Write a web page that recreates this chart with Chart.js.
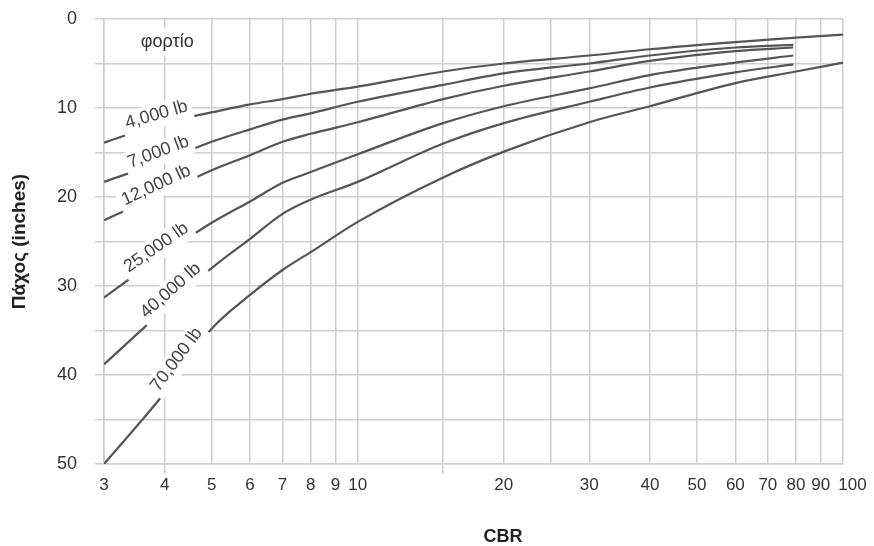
<!DOCTYPE html>
<html>
<head>
<meta charset="utf-8">
<script src="https://cdn.jsdelivr.net/npm/chart.js@4.4.1/dist/chart.umd.min.js"></script>
<style>
  html, body { margin: 0; padding: 0; background: #fff; }
  #wrap { width: 874px; height: 546px; }
</style>
</head>
<body>
<div id="wrap"><canvas id="myChart"></canvas></div>
<script>
// CBR values along the log x axis
var cbrLong = [3, 4, 5, 6, 7, 8, 10, 15, 20, 30, 40, 60, 80, 100];
var cbrShort = [3, 4, 5, 6, 7, 8, 10, 15, 20, 30, 40, 60, 79];

// thickness (inches) for each load
var load4000 = [13.9, 11.65, 10.5, 9.6, 9.0, 8.4, 7.6, 5.9, 5.0, 4.1, 3.4, 2.6, 2.1, 1.75];
var load7000 = [18.3, 15.9, 13.8, 12.4, 11.3, 10.6, 9.3, 7.4, 6.1, 5.0, 4.1, 3.2, 2.9];
var load12000 = [22.6, 19.5, 17.0, 15.3, 13.8, 12.9, 11.6, 9.0, 7.5, 5.9, 4.7, 3.6, 3.2];
var load25000 = [31.3, 26.4, 22.9, 20.5, 18.4, 17.2, 15.2, 11.7, 9.8, 7.8, 6.3, 4.9, 4.1];
var load40000 = [38.8, 32.6, 28.0, 24.7, 21.9, 20.3, 18.3, 14.0, 11.7, 9.3, 7.7, 6.0, 5.1];
var load70000 = [50, 42, 34.8, 31.0, 28.2, 26.2, 22.8, 17.8, 14.9, 11.6, 9.8, 7.2, 5.9, 4.9];

var loadNames = ["4,000 lb", "7,000 lb", "12,000 lb", "25,000 lb", "40,000 lb", "70,000 lb"];
var labelCbr = [3.9, 3.95, 3.92, 3.95, 4.25, 4.4];

var xGrid = [3, 4, 5, 6, 7, 8, 9, 10, 15, 20, 25, 30, 40, 50, 60, 70, 80, 90, 100];
var xLabels = [3, 4, 5, 6, 7, 8, 9, 10, 20, 30, 40, 50, 60, 70, 80, 90, 100];
var yLabels = [0, 10, 20, 30, 40, 50];

var FONT = "'Liberation Sans', Arial, sans-serif";
var GRID = "#cecece";

function pairs(xs, ys) {
  return xs.map(function (x, i) { return { x: x, y: ys[i] }; });
}

function curveY(pts, px) {
  for (var i = 0; i < pts.length - 1; i++) {
    if (px >= pts[i].x && px <= pts[i + 1].x) {
      var t = (px - pts[i].x) / (pts[i + 1].x - pts[i].x);
      return pts[i].y + t * (pts[i + 1].y - pts[i].y);
    }
  }
  return pts[0].y;
}

// load names written along the curves, with white behind them
var curveLabels = {
  id: "curveLabels",
  afterDatasetsDraw: function (chart) {
    var ctx = chart.ctx;
    var xs = chart.scales.x;
    var ys = chart.scales.y;
    var area = chart.chartArea;
    ctx.save();
    ctx.font = "18px " + FONT;
    ctx.textAlign = "center";
    ctx.textBaseline = "middle";
    loadNames.forEach(function (name, i) {
      var pts = chart.getDatasetMeta(i).data;
      var px = xs.getPixelForValue(labelCbr[i]);
      var py = curveY(pts, px);
      var ang = Math.atan2(curveY(pts, px + 25) - curveY(pts, px - 25), 50);
      var w = ctx.measureText(name).width;
      ctx.save();
      ctx.translate(px, py);
      ctx.rotate(ang);
      ctx.fillStyle = "#fff";
      ctx.fillRect(-w / 2 - 4, -21, w + 8, 24);
      ctx.fillStyle = "#444";
      ctx.fillText(name, 0, -10);
      ctx.restore();
    });

    // "φορτίο" heading
    var fx = xs.getPixelForValue(4.05);
    var fy = ys.getPixelForValue(2.6);
    var fw = ctx.measureText("φορτίο").width;
    ctx.fillStyle = "#fff";
    ctx.fillRect(fx - fw / 2 - 5, fy - 14, fw + 10, 28);
    ctx.fillStyle = "#333";
    ctx.fillText("φορτίο", fx, fy);

    // x axis title
    ctx.font = "bold 18px " + FONT;
    ctx.fillStyle = "#222";
    ctx.fillText("CBR", area.left + 0.54 * (area.right - area.left), 537);
    ctx.restore();
  }
};

var ds = [
  pairs(cbrLong, load4000),
  pairs(cbrShort, load7000),
  pairs(cbrShort, load12000),
  pairs(cbrShort, load25000),
  pairs(cbrShort, load40000),
  pairs(cbrLong, load70000)
];

new Chart(document.getElementById("myChart"), {
  type: "line",
  data: {
    datasets: ds.map(function (d, i) {
      return {
        label: loadNames[i],
        data: d,
        borderColor: "#555",
        borderWidth: 2.2,
        pointRadius: 0,
        fill: false,
        cubicInterpolationMode: "monotone"
      };
    })
  },
  options: {
    responsive: true,
    maintainAspectRatio: false,
    devicePixelRatio: 1,
    animation: false,
    layout: { padding: { top: 19, right: 31, left: 0, bottom: 0 } },
    plugins: { legend: { display: false }, tooltip: { enabled: false } },
    scales: {
      x: {
        type: "logarithmic",
        min: 3,
        max: 100,
        afterBuildTicks: function (scale) {
          scale.ticks = xGrid.map(function (v) { return { value: v }; });
        },
        afterFit: function (scale) {
          scale.height = 82;
          scale.paddingLeft = 0;
          scale.paddingRight = 0;
        },
        grid: {
          color: GRID,
          lineWidth: 1.5,
          tickLength: 10,
          tickColor: function (c) {
            return c.tick && (c.tick.value === 4 || c.tick.value === 15) ? GRID : "rgba(0,0,0,0)";
          }
        },
        border: { color: GRID, width: 1.5 },
        ticks: {
          autoSkip: false,
          maxRotation: 0,
          minRotation: 0,
          padding: 1,
          color: "#333",
          font: { family: FONT, size: 17 },
          callback: function (v) {
            if (xLabels.indexOf(v) < 0) return "";
            // last label sits just right of the edge line
            return v === 100 ? "    100" : String(v);
          }
        }
      },
      y: {
        type: "linear",
        reverse: true,
        min: 0,
        max: 50,
        afterFit: function (scale) {
          scale.width = 104;
          scale.paddingTop = 0;
          scale.paddingBottom = 0;
        },
        grid: { color: GRID, lineWidth: 1.5, tickLength: 9, tickColor: GRID },
        border: { color: GRID, width: 1.5 },
        ticks: {
          stepSize: 5,
          padding: 18,
          color: "#333",
          font: { family: FONT, size: 18 },
          callback: function (v) { return yLabels.indexOf(v) >= 0 ? String(v) : ""; }
        },
        title: {
          display: true,
          text: "Πάχος (inches)",
          color: "#222",
          font: { family: FONT, size: 19, weight: "bold" },
          padding: { top: 8, bottom: 0 }
        }
      }
    }
  },
  plugins: [curveLabels]
});
</script>
</body>
</html>
